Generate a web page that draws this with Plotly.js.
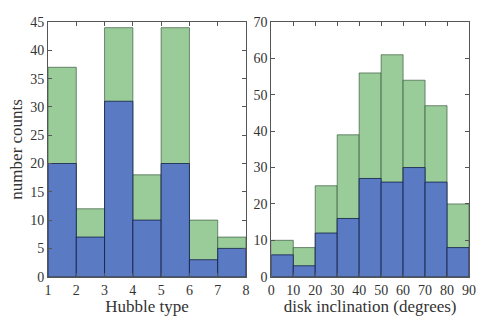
<!DOCTYPE html>
<html>
<head>
<meta charset="utf-8">
<script src="https://cdn.plot.ly/plotly-3.0.1.min.js"></script>
<style>
  body { margin: 0; background: #fff; }
  #chart { width: 491px; height: 327px; }
</style>
</head>
<body>
<div id="chart"></div>
<script>
// bin edges and counts
var hubbleEdges = [1, 2, 3, 4, 5, 6, 7, 8];
var hubbleAll = [37, 12, 44, 18, 44, 10, 7];
var hubbleSub = [20, 7, 31, 10, 20, 3, 5];

var inclEdges = [0, 10, 20, 30, 40, 50, 60, 70, 80, 90];
var inclAll = [10, 8, 25, 39, 56, 61, 54, 47, 20];
var inclSub = [6, 3, 12, 16, 27, 26, 30, 26, 8];

var green = '#99cc99';
var blue = '#5a7bc4';
var font = 'Liberation Serif, DejaVu Serif, serif';

function centers(edges) {
	var c = [];
	for (var i = 0; i < edges.length - 1; i++) {
		c.push((edges[i] + edges[i + 1]) / 2);
	}
	return c;
}
function widths(edges) {
	var w = [];
	for (var i = 0; i < edges.length - 1; i++) {
		w.push(edges[i + 1] - edges[i]);
	}
	return w;
}

function bars(edges, counts, color, lineColor, xa, ya) {
	return {
		type: 'bar',
		x: centers(edges),
		y: counts,
		width: widths(edges),
		xaxis: xa,
		yaxis: ya,
		marker: {color: color, line: {color: lineColor, width: 1}},
		hoverinfo: 'none'
	};
}

var data = [
	bars(hubbleEdges, hubbleAll, green, 'rgba(40,70,45,0.6)', 'x', 'y'),
	bars(hubbleEdges, hubbleSub, blue, 'rgba(20,30,70,0.8)', 'x', 'y'),
	bars(inclEdges, inclAll, green, 'rgba(40,70,45,0.6)', 'x2', 'y2'),
	bars(inclEdges, inclSub, blue, 'rgba(20,30,70,0.8)', 'x2', 'y2')
];

function axis(extra) {
	var a = {
		showgrid: false,
		zeroline: false,
		showline: true,
		mirror: 'ticks',
		linecolor: '#555',
		linewidth: 1,
		ticks: 'inside',
		ticklen: 4,
		tickcolor: '#555',
		tickfont: {family: font, size: 14, color: '#333'},
		fixedrange: true
	};
	for (var k in extra) a[k] = extra[k];
	return a;
}

var layout = {
	width: 491,
	height: 327,
	margin: {l: 0, r: 0, t: 0, b: 0},
	paper_bgcolor: '#fff',
	plot_bgcolor: '#fff',
	showlegend: false,
	barmode: 'overlay',
	bargap: 0,
	font: {family: font, color: '#333'},
	xaxis: axis({
		domain: [48 / 491, 246 / 491], anchor: 'y', range: [1, 8], dtick: 1, tick0: 1,
		title: {text: 'Hubble type', font: {family: font, size: 17, color: '#333'}, standoff: 2}
	}),
	yaxis: axis({
		domain: [1 - 276.7 / 327, 1 - 22 / 327], anchor: 'x', range: [0, 45], dtick: 5,
		title: {text: 'number counts', font: {family: font, size: 17, color: '#333'}, standoff: 3}
	}),
	xaxis2: axis({
		domain: [271.3 / 491, 469 / 491], anchor: 'y2', range: [0, 90], dtick: 10,
		title: {text: 'disk inclination (degrees)', font: {family: font, size: 17, color: '#333'}, standoff: 2}
	}),
	yaxis2: axis({
		domain: [1 - 276.7 / 327, 1 - 22 / 327], anchor: 'x2', range: [0, 70], dtick: 10
	})
};

Plotly.newPlot('chart', data, layout, {displayModeBar: false, staticPlot: true});
</script>
</body>
</html>
